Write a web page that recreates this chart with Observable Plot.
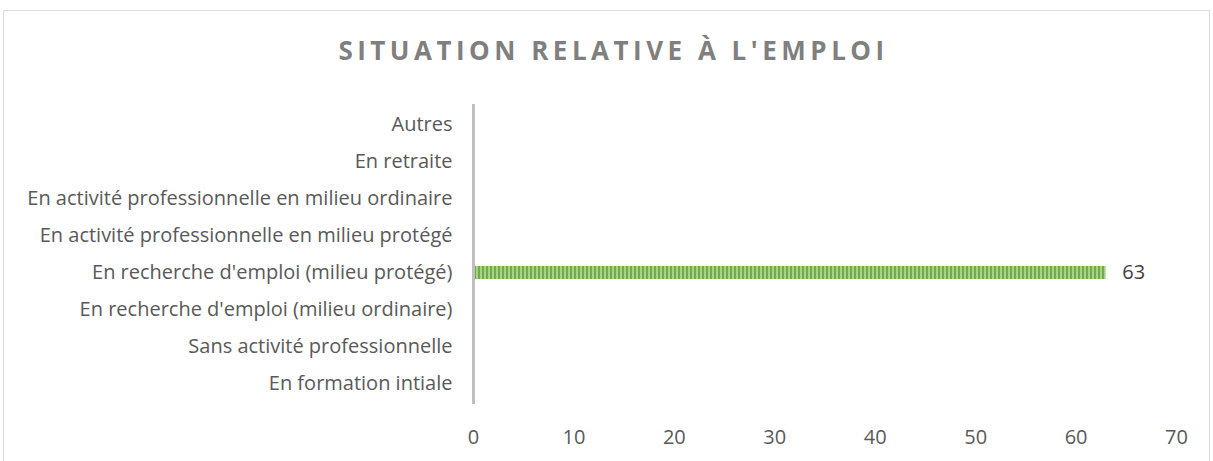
<!DOCTYPE html>
<html><head><meta charset="utf-8">
<script src="https://cdn.jsdelivr.net/npm/d3@7"></script>
<script src="https://cdn.jsdelivr.net/npm/@observablehq/plot@0.6"></script>
<style>
html,body{margin:0;padding:0;background:#fff;}
body{width:1213px;height:461px;position:relative;overflow:hidden;font-family:"Open Sans",sans-serif;}
#frame{position:absolute;left:3px;top:10px;width:1207px;height:470px;border:1px solid #d9d9d9;box-sizing:border-box;}
#title{position:absolute;left:7px;top:37px;width:1213px;text-align:center;font-family:"Open Sans",sans-serif;font-weight:700;font-size:26px;line-height:1;letter-spacing:4.5px;color:#7f7f7f;white-space:nowrap;}
#chart{position:absolute;left:0;top:90px;}
</style></head>
<body>
<div id="frame"></div>
<div id="title">SITUATION RELATIVE À L'EMPLOI</div>
<div id="chart"></div>
<script>
const categories = [
  "Autres",
  "En retraite",
  "En activité professionnelle en milieu ordinaire",
  "En activité professionnelle en milieu protégé",
  "En recherche d'emploi (milieu protégé)",
  "En recherche d'emploi (milieu ordinaire)",
  "Sans activité professionnelle",
  "En formation intiale"
];
const values = [0, 0, 0, 0, 63, 0, 0, 0];
const xTicks = [0, 10, 20, 30, 40, 50, 60, 70];

const data = categories.map((c, i) => ({category: c, value: values[i]}));

const svg = Plot.plot({
  width: 1213,
  height: 371,
  marginTop: 14,
  marginBottom: 57,
  marginLeft: 473,
  marginRight: 37,
  style: {fontFamily: "'Open Sans', sans-serif", fontSize: "20px", color: "#595959", background: "transparent", overflow: "visible"},
  x: {domain: [0, 70], label: null},
  y: {domain: categories, paddingInner: 0.66, paddingOuter: 0.33, label: null},
  marks: [
    Plot.barX(data, {x: "value", y: "category", fill: "url(#stripes)"}),
    Plot.ruleX([0], {stroke: "#bfbfbf", strokeWidth: 3}),
    Plot.text(data.filter(d => d.value > 0), {x: "value", y: "category", text: d => String(d.value), textAnchor: "start", dx: 16, fill: "#404040", fontSize: 20}),
    Plot.axisX({ticks: xTicks, tickSize: 0, tickPadding: 25, tickFormat: d => String(d), fill: "#595959", label: null, fontSize: 20}),
    Plot.axisY({tickSize: 0, tickPadding: 21, fill: "#595959", label: null, fontSize: 20})
  ]
});
svg.insertAdjacentHTML("afterbegin",
  '<defs><pattern id="stripes" width="4" height="4" patternUnits="userSpaceOnUse">' +
  '<rect width="4" height="4" fill="#70ad47"/><rect x="0" width="2" height="4" fill="#a9d18e"/></pattern></defs>');
document.getElementById("chart").appendChild(svg);
</script>
</body></html>
